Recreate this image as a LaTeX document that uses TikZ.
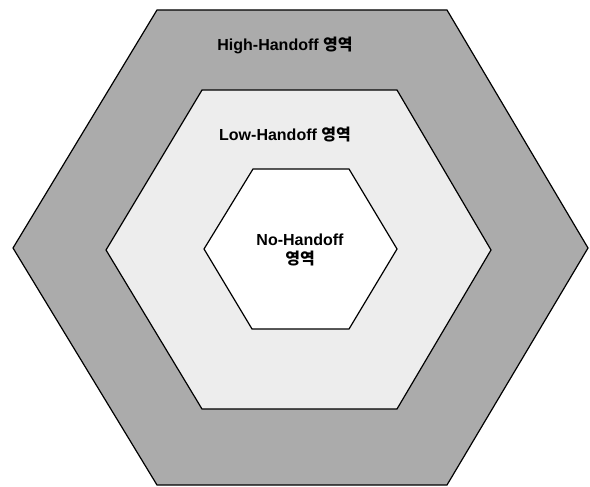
\documentclass[tikz,border=0pt]{standalone}
\usepackage{fontspec}
\setmainfont{Liberation Sans}
\newfontfamily\kr{Noto Sans CJK KR}
\usepackage{tikz}
\tikzset{
  zone/.style={draw=black,line width=1.2pt,line join=miter},
  lbl/.style={font=\bfseries\fontsize{16}{19}\selectfont,inner sep=0pt,align=center},
}
\definecolor{highgray}{HTML}{ABABAB}
\definecolor{lowgray}{HTML}{EDEDED}

\begin{document}
\begin{tikzpicture}[x=1pt,y=-1pt]
\useasboundingbox (0,0) rectangle (590,487);
\draw[zone,fill=highgray] (157,10)--(447,10)--(588,248)--(447,485)--(157,485)--(13,248)--cycle;
\draw[zone,fill=lowgray] (202,90)--(397,90)--(491,250)--(397,409)--(202,409)--(106,250)--cycle;
\draw[zone,fill=white] (253,169)--(349,169)--(397,249)--(349,329)--(252,329)--(204,249)--cycle;
\node[lbl] (high) at (285,45){High-Handoff {\kr\bfseries 영역}};
\node[lbl] (low) at (285,135){Low-Handoff {\kr\bfseries 영역}};
\node[lbl] (no) at (300,250){No-Handoff\\{\kr\bfseries 영역}};
\end{tikzpicture}
\end{document}
